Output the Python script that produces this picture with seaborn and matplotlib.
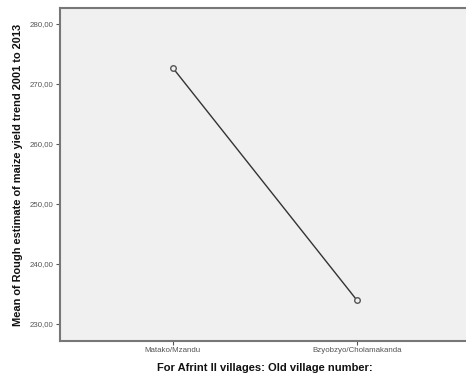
import matplotlib
matplotlib.use("Agg")
import matplotlib.pyplot as plt
import matplotlib.ticker as mticker
import seaborn as sns
import pandas as pd

villages = ["Matako/Mzandu", "Bzyobzyo/Cholamakanda"]
mean_yield = [272.7, 234.0]
y_ticks = [230, 240, 250, 260, 270, 280]

df = pd.DataFrame({"village": villages, "yield": mean_yield})

sns.set_style("white")
plt.rcParams["font.family"] = ["Liberation Sans", "DejaVu Sans"]

fig = plt.figure(figsize=(4.66, 3.76), dpi=100)
ax = fig.add_axes([60 / 466, 1 - 341 / 376, 409 / 466, 333 / 376])
ax.set_facecolor("#f0f0f0")

sns.pointplot(data=df, x="village", y="yield", order=villages, ax=ax,
              color="#333333", linewidth=1.0, markers="o",
              markersize=4, markerfacecolor="#f0f0f0",
              markeredgecolor="#555555", markeredgewidth=1.0)

ax.set_xlim(-0.613, 1.61)
ax.set_ylim(227.17, 282.67)
ax.set_yticks(y_ticks)
ax.yaxis.set_major_formatter(mticker.FuncFormatter(lambda v, p: f"{v:.2f}".replace(".", ",")))

ax.tick_params(axis="both", length=3, width=0.8, color="#555555",
               labelsize=5.7, labelcolor="#555555", pad=1.5,
               left=True, bottom=True)

for side in ["left", "bottom", "top", "right"]:
    ax.spines[side].set_color("#777777")
    ax.spines[side].set_linewidth(1.5)

ax.set_xlabel("For Afrint II villages: Old village number:", fontsize=8,
              fontweight="bold", color="#111111", labelpad=6)
ax.set_ylabel("Mean of Rough estimate of maize yield trend 2001 to 2013",
              fontsize=7.9, fontweight="bold", color="#111111", labelpad=5)

fig.savefig("out.png", dpi=100)
